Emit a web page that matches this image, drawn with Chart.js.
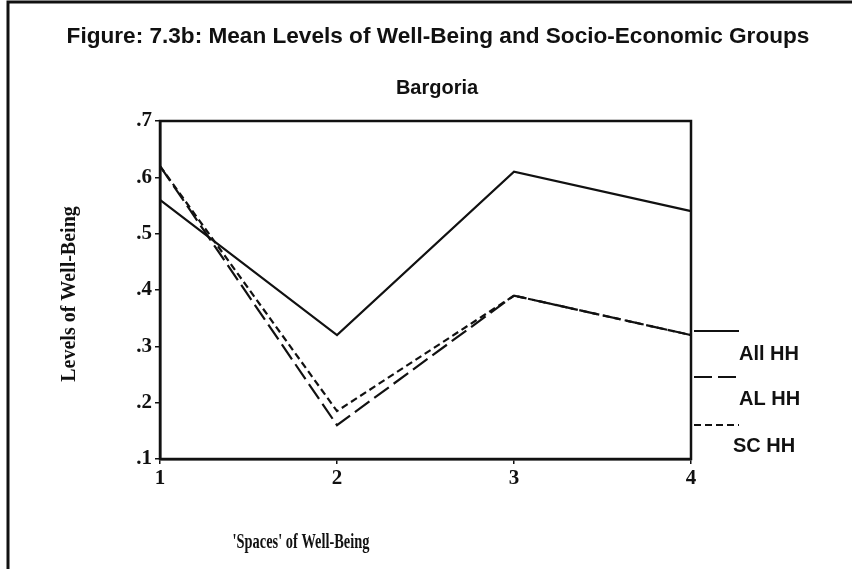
<!DOCTYPE html>
<html>
<head>
<meta charset="utf-8">
<script src="https://cdn.jsdelivr.net/npm/chart.js@4.4.1/dist/chart.umd.min.js"></script>
<style>
    html, body { margin: 0; padding: 0; background: #fff; }
</style>
</head>
<body>
<canvas id="wellbeing-chart" width="852" height="569"></canvas>
<script>
// 'Spaces' of well-being along the x axis
const spaces = ['1', '2', '3', '4'];

// Mean levels of well-being per group
const allHH = [0.56, 0.32, 0.61, 0.54];
const alHH = [0.62, 0.16, 0.39, 0.32];
const scHH = [0.62, 0.185, 0.39, 0.32];

// Y axis tick labels, bottom to top
const yTickLabels = ['.1', '.2', '.3', '.4', '.5', '.6', '.7'];

const seriesNames = ['All HH', 'AL HH', 'SC HH'];

const titleText = 'Figure: 7.3b: Mean Levels of Well-Being and Socio-Economic Groups';
const subtitleText = 'Bargoria';
const xTitle = "'Spaces' of Well-Being";
const yTitle = 'Levels of Well-Being';

const ink = '#111';
const serifFont = '"Liberation Serif", "Times New Roman", serif';
const sansFont = '"Liberation Sans", Arial, sans-serif';

// Titles, frame and the stacked legend are drawn by hand, like the scanned figure
const figureText = {
    id: 'figureText',
    afterDraw(chart) {
        const { ctx, chartArea: a } = chart;
        ctx.save();
        ctx.strokeStyle = ink;
        ctx.fillStyle = ink;

        // box round the plot
        ctx.lineWidth = 2.5;
        ctx.strokeRect(a.left, a.top, a.right - a.left, a.bottom - a.top);

        // outer frame, only top and left survive the scan
        ctx.lineWidth = 3;
        ctx.beginPath();
        ctx.moveTo(8, 569);
        ctx.lineTo(8, 2);
        ctx.lineTo(852, 2);
        ctx.stroke();

        ctx.textAlign = 'center';
        ctx.textBaseline = 'middle';
        ctx.font = 'bold 22.6px ' + sansFont;
        ctx.fillText(titleText, 438, 37);
        ctx.font = 'bold 20px ' + sansFont;
        ctx.fillText(subtitleText, 437, 88);

        // x title is squeezed sideways in the scan
        ctx.font = 'bold 20px ' + serifFont;
        ctx.save();
        ctx.translate(301, 543);
        ctx.scale(0.72, 1);
        ctx.fillText(xTitle, 0, 0);
        ctx.restore();

        ctx.save();
        ctx.translate(70, 294);
        ctx.rotate(-Math.PI / 2);
        ctx.fillText(yTitle, 0, 0);
        ctx.restore();

        // legend: line sample on top, label below and to the right
        const lineY = [331, 377, 425];
        const textX = [739, 739, 733];
        const textY = [354, 399, 446];
        ctx.font = 'bold 20px ' + sansFont;
        ctx.textAlign = 'left';
        chart.data.datasets.forEach((ds, i) => {
            ctx.lineWidth = 2;
            ctx.setLineDash(ds.borderDash || []);
            ctx.beginPath();
            ctx.moveTo(694, lineY[i]);
            ctx.lineTo(739, lineY[i]);
            ctx.stroke();
            ctx.setLineDash([]);
            ctx.fillText(ds.label, textX[i], textY[i]);
        });
        ctx.restore();
    }
};

const lineStyle = {
    borderColor: ink,
    borderWidth: 2.2,
    pointRadius: 0,
    fill: false,
    tension: 0,
};

new Chart('wellbeing-chart', {
    type: 'line',
    data: {
        labels: spaces,
        datasets: [
            { ...lineStyle, label: seriesNames[0], data: allHH },
            { ...lineStyle, label: seriesNames[1], data: alHH, borderDash: [18, 6] },
            { ...lineStyle, label: seriesNames[2], data: scHH, borderDash: [7, 4] },
        ]
    },
    options: {
        responsive: false,
        animation: false,
        devicePixelRatio: 1,
        layout: {
            padding: { top: 121, right: 161, left: 0, bottom: 0 }
        },
        plugins: {
            legend: { display: false },
            title: { display: false },
            tooltip: { enabled: false },
        },
        scales: {
            x: {
                type: 'category',
                offset: false,
                grid: { display: true, drawOnChartArea: false, tickLength: 5, color: ink, lineWidth: 1.5 },
                border: { display: true, color: ink, width: 2.5 },
                ticks: {
                    color: ink,
                    padding: 2,
                    maxRotation: 0,
                    font: { family: serifFont, size: 21, weight: 'bold' },
                },
                afterFit(scale) { scale.height = 110; },
            },
            y: {
                min: 0.1,
                max: 0.7,
                grid: { display: true, drawOnChartArea: false, tickLength: 5, color: ink, lineWidth: 1.5 },
                border: { display: true, color: ink, width: 2.5 },
                ticks: {
                    stepSize: 0.1,
                    color: ink,
                    padding: 3,
                    font: { family: serifFont, size: 21, weight: 'bold' },
                    callback: (value, index) => yTickLabels[index],
                },
                afterFit(scale) { scale.width = 160; },
            }
        }
    },
    plugins: [figureText]
});
</script>
</body>
</html>
